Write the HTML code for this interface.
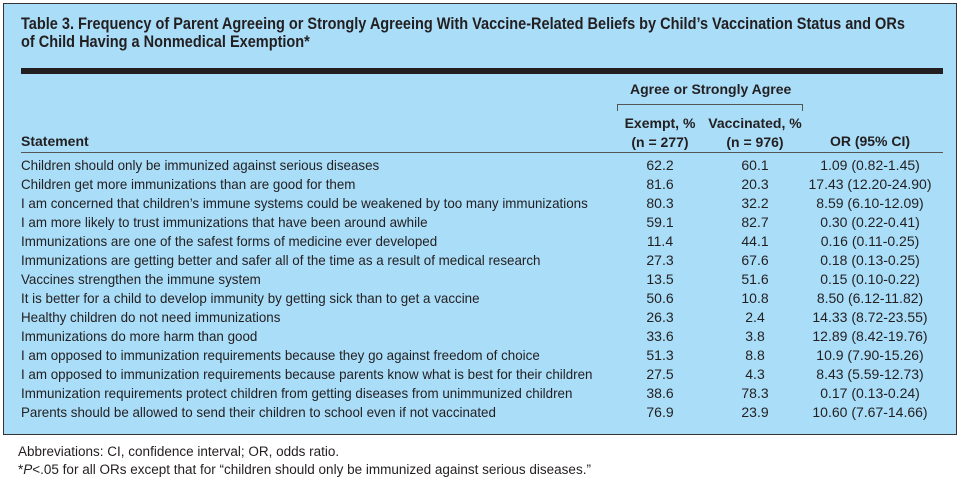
<!DOCTYPE html>
<html><head><meta charset="utf-8"><style>
body{margin:0;width:961px;height:483px;background:#fff;position:relative;overflow:hidden;font-family:"Liberation Sans",sans-serif;color:#231f20}
.box{position:absolute;left:3px;top:3px;width:952px;height:430px;background:#a9ddf8;border:1.5px solid #333}
.t{position:absolute;white-space:nowrap}
.title{left:21px;top:15px;font-weight:bold;font-size:16.5px;line-height:18px;transform:scaleX(0.88);transform-origin:left top}
.bar{position:absolute;left:21px;top:68px;width:922px;height:6px;background:#231f20}
.rule{position:absolute;left:21px;top:152px;width:922px;height:1px;background:#555}
.h{font-weight:bold;font-size:14px}
.r{font-size:14px;line-height:19px}
.c{text-align:center}
</style></head><body>
<div class="box"></div>
<div class="t title">Table 3. Frequency of Parent Agreeing or Strongly Agreeing With Vaccine-Related Beliefs by Child’s Vaccination Status and ORs<br>of Child Having a Nonmedical Exemption*</div>
<div class="bar"></div>
<div class="t h" style="left:630px;top:81px;width:160px;text-align:center">Agree or Strongly Agree</div>
<div style="position:absolute;left:617px;top:104px;width:184px;height:6px;border:1px solid #555;border-bottom:none"></div>
<div class="t h c" style="left:600px;top:114px;width:120px;line-height:19px">Exempt, %<br>(n = 277)</div>
<div class="t h c" style="left:695px;top:114px;width:120px;line-height:19px">Vaccinated, %<br>(n = 976)</div>
<div class="t h c" style="left:810px;top:133px;width:120px">OR (95% CI)</div>
<div class="t h" style="left:21px;top:133px">Statement</div>
<div class="rule"></div>
<div class="t r" style="left:21px;top:156px;transform:scaleX(0.955);transform-origin:left top">Children should only be immunized against serious diseases<br>Children get more immunizations than are good for them<br>I am concerned that children’s immune systems could be weakened by too many immunizations<br>I am more likely to trust immunizations that have been around awhile<br>Immunizations are one of the safest forms of medicine ever developed<br>Immunizations are getting better and safer all of the time as a result of medical research<br>Vaccines strengthen the immune system<br>It is better for a child to develop immunity by getting sick than to get a vaccine<br>Healthy children do not need immunizations<br>Immunizations do more harm than good<br>I am opposed to immunization requirements because they go against freedom of choice<br>I am opposed to immunization requirements because parents know what is best for their children<br>Immunization requirements protect children from getting diseases from unimmunized children<br>Parents should be allowed to send their children to school even if not vaccinated</div>
<div class="t r c" style="left:620px;top:156px;width:80px">62.2<br>81.6<br>80.3<br>59.1<br>11.4<br>27.3<br>13.5<br>50.6<br>26.3<br>33.6<br>51.3<br>27.5<br>38.6<br>76.9</div>
<div class="t r c" style="left:715px;top:156px;width:80px">60.1<br>20.3<br>32.2<br>82.7<br>44.1<br>67.6<br>51.6<br>10.8<br>2.4<br>3.8<br>8.8<br>4.3<br>78.3<br>23.9</div>
<div class="t r c" style="left:800px;top:156px;width:140px">1.09 (0.82-1.45)<br>17.43 (12.20-24.90)<br>8.59 (6.10-12.09)<br>0.30 (0.22-0.41)<br>0.16 (0.11-0.25)<br>0.18 (0.13-0.25)<br>0.15 (0.10-0.22)<br>8.50 (6.12-11.82)<br>14.33 (8.72-23.55)<br>12.89 (8.42-19.76)<br>10.9 (7.90-15.26)<br>8.43 (5.59-12.73)<br>0.17 (0.13-0.24)<br>10.60 (7.67-14.66)</div>
<div class="t" style="left:18px;top:443px;font-size:13.5px;line-height:18px">Abbreviations: CI, confidence interval; OR, odds ratio.<br>*<i>P</i>&lt;.05 for all ORs except that for “children should only be immunized against serious diseases.”</div>
</body></html>
